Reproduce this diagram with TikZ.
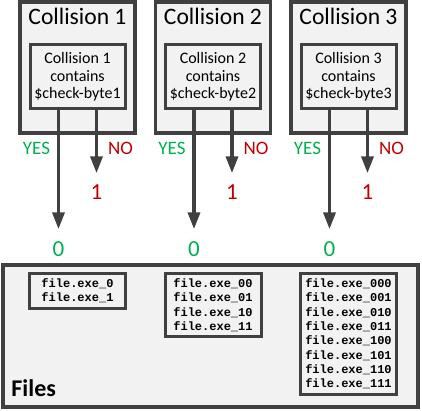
\documentclass[tikz,border=0pt]{standalone}
\usepackage{fontspec}
\setmainfont{Carlito}
\setmonofont{Liberation Mono}
\usepackage{tikz}
\usetikzlibrary{arrows.meta,positioning,shadows}
\definecolor{edge}{HTML}{404040}
\definecolor{boxfill}{HTML}{F2F2F2}
\definecolor{yesgreen}{HTML}{00B050}
\definecolor{nored}{HTML}{C00000}
\tikzset{
  frame/.style={draw=edge, line width=3.5pt, fill=boxfill, inner sep=0pt,
    drop shadow={shadow xshift=1.5pt, shadow yshift=-1.5pt, opacity=0.3}},
  coll/.style={frame, minimum width=115pt, minimum height=131pt},
  title/.style={inner sep=0pt, font=\fontsize{23.6}{28}\selectfont},
  test/.style={frame, line width=3pt, minimum width=95pt, minimum height=64pt,
    align=center, font=\fontsize{16}{17.5}\selectfont},
  grp/.style={frame, line width=3pt, minimum width=96pt, inner ysep=5pt, align=left,
    font=\fontsize{12}{14.33}\selectfont\ttfamily\bfseries},
  yeslbl/.style={inner sep=0pt, text=yesgreen, font=\fontsize{19}{22}\selectfont},
  nolbl/.style={inner sep=0pt, text=nored, font=\fontsize{19}{22}\selectfont},
  yesval/.style={yeslbl, font=\fontsize{23}{27}\selectfont},
  noval/.style={nolbl, font=\fontsize{23}{27}\selectfont},
  arr/.style={draw=edge, line width=3.5pt, -{Triangle[length=17pt, width=12pt]}}}
\begin{document}
\begin{tikzpicture}[x=1pt, y=-1pt, node distance=17pt]
  \useasboundingbox (0,0) rectangle (422,410);
  % collision boxes
  \node[coll] (c1) at (77.5,67.5) {};
  \node[coll, right=of c1] (c2) {};
  \node[coll, right=of c2] (c3) {};
  \node[title, below=8pt of c1.north] (t1) {Collision 1};
  \node[title, below=8pt of c2.north] (t2) {Collision 2};
  \node[title, below=8pt of c3.north] (t3) {Collision 3};
  \node[test, below=43pt of c1.north] (k1) {Collision 1\\contains\\\$check-byte1};
  \node[test, below=43pt of c2.north] (k2) {Collision 2\\contains\\\$check-byte2};
  \node[test, below=43pt of c3.north] (k3) {Collision 3\\contains\\\$check-byte3};
  % branches
  \node[yeslbl, below=7pt of c1.south, xshift=-41pt] (y1) {YES};
  \node[nolbl, below=7pt of c1.south, xshift=43pt] (n1) {NO};
  \node[yeslbl, below=7pt of c2.south, xshift=-41pt] (y2) {YES};
  \node[nolbl, below=7pt of c2.south, xshift=43pt] (n2) {NO};
  \node[yeslbl, below=7pt of c3.south, xshift=-41pt] (y3) {YES};
  \node[nolbl, below=7pt of c3.south, xshift=43pt] (n3) {NO};
  \node[yesval, below=131pt of k1.south, xshift=-19pt] (z1) {0};
  \node[noval, below=74pt of k1.south, xshift=19pt] (o1) {1};
  \node[yesval, below=131pt of k2.south, xshift=-19pt] (z2) {0};
  \node[noval, below=74pt of k2.south, xshift=19pt] (o2) {1};
  \node[yesval, below=131pt of k3.south, xshift=-19pt] (z3) {0};
  \node[noval, below=74pt of k3.south, xshift=19pt] (o3) {1};
  \draw[arr, shorten >=12pt] (k1.south -| z1) -- (z1.north);
  \draw[arr, shorten >=11pt] (k1.south -| o1) -- (o1.north);
  \draw[arr, shorten >=12pt] (k2.south -| z2) -- (z2.north);
  \draw[arr, shorten >=11pt] (k2.south -| o2) -- (o2.north);
  \draw[arr, shorten >=12pt] (k3.south -| z3) -- (z3.north);
  \draw[arr, shorten >=11pt] (k3.south -| o3) -- (o3.north);
  % files
  \node[frame, minimum width=415pt, minimum height=142pt] (files) at (210.5,336) {};
  \node[inner sep=0pt, anchor=base west, font=\fontsize{24}{28}\selectfont\bfseries]
    (flbl) at ([xshift=10pt, yshift=12pt]files.south west) {Files};
  \node[grp, anchor=north, yshift=-9pt] (g1) at (files.north -| c1)
    {file.exe\_0\\file.exe\_1};
  \node[grp, anchor=north, yshift=-9pt] (g2) at (files.north -| c2)
    {file.exe\_00\\file.exe\_01\\file.exe\_10\\file.exe\_11};
  \node[grp, anchor=north, yshift=-9pt] (g3) at (files.north -| c3)
    {file.exe\_000\\file.exe\_001\\file.exe\_010\\file.exe\_011\\file.exe\_100\\file.exe\_101\\file.exe\_110\\file.exe\_111};
\end{tikzpicture}
\end{document}
